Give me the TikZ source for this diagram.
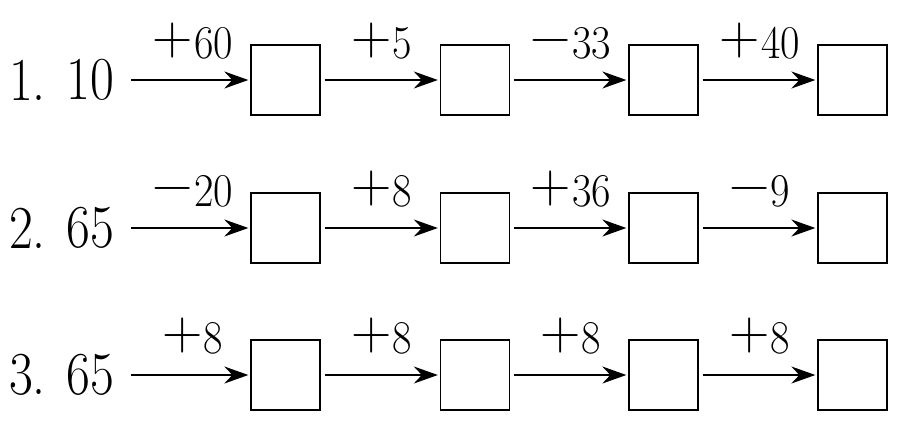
\documentclass[tikz,border=0pt]{standalone}
\usepackage{fontspec}
\usepackage{graphicx}
\usetikzlibrary{arrows.meta}
\newcommand\mylab[2]{{\fontsize{47}{47}\selectfont\raisebox{3.5pt}{\fontsize{56}{56}\selectfont #1}\hspace{1pt}\scalebox{0.9}[1]{#2}}}
\newcommand\mynum[1]{{\fontsize{61}{61}\selectfont\scalebox{0.85}[1]{#1}}}
\tikzset{
  box/.style={draw, line width=1.3pt, minimum width=69pt, minimum height=70pt, inner sep=0pt},
  arr/.style={line width=1.8pt, -{Stealth[length=24pt,width=17pt,inset=8pt]}, shorten >=2pt},
  txt/.style={inner sep=0pt},
}
\begin{document}
\begin{tikzpicture}[x=1pt,y=-1pt]
\useasboundingbox (0,0) rectangle (917,424);
\foreach \r/\y/\n/\v/\la/\lb/\lc/\ld in {
  1/80/1./10/{{+}{60}}/{{+}{5}}/{{−}{33}}/{{+}{40}},
  2/228/2./65/{{−}{20}}/{{+}{8}}/{{+}{36}}/{{−}{9}},
  3/375/3./65/{{+}{8}}/{{+}{8}}/{{+}{8}}/{{+}{8}}}{
  \node[txt, anchor=west] (n\r) at (9,\y) {\mynum{\n}};
  \node[txt, anchor=west] (v\r) at (66,\y) {\mynum{\v}};
  \node[box] (b\r1) at (285.5,\y) {};
  \node[box] (b\r2) at (475,\y) {};
  \node[box] (b\r3) at (663.5,\y) {};
  \node[box] (b\r4) at (852.5,\y) {};
  \draw[arr, shorten <=17pt] (v\r.east |- b\r1.west) -- (b\r1.west);
  \draw[arr, shorten <=4pt] (b\r1.east) -- (b\r2.west);
  \draw[arr, shorten <=4pt] (b\r2.east) -- (b\r3.west);
  \draw[arr, shorten <=4pt] (b\r3.east) -- (b\r4.west);
  \node[txt, anchor=base] (l\r1) at (193,\y-22) {\expandafter\mylab\la};
  \node[txt, anchor=base] (l\r2) at (382,\y-22) {\expandafter\mylab\lb};
  \node[txt, anchor=base] (l\r3) at (571,\y-22) {\expandafter\mylab\lc};
  \node[txt, anchor=base] (l\r4) at (760,\y-22) {\expandafter\mylab\ld};
}
\end{tikzpicture}
\end{document}
